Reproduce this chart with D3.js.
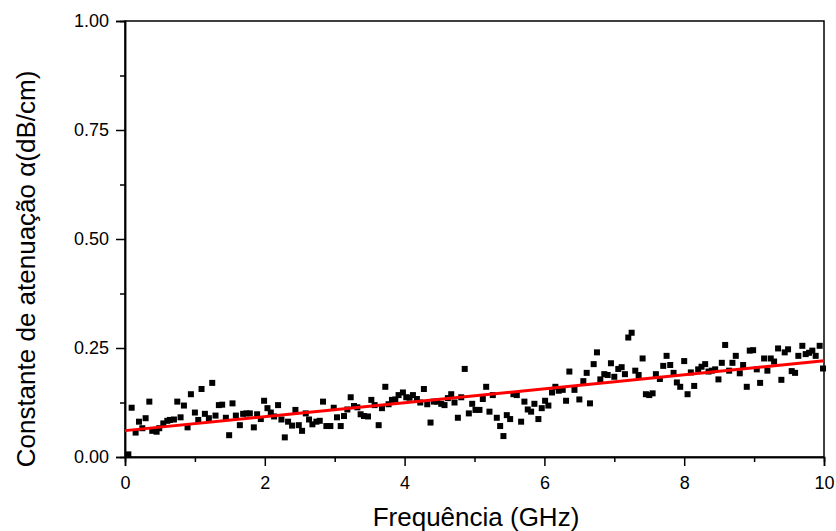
<!DOCTYPE html>
<html><head><meta charset="utf-8">
<script src="https://cdn.jsdelivr.net/npm/d3@7"></script>
<style>body{margin:0;background:#fff}svg{display:block}text{font-family:"Liberation Sans",Arial,sans-serif}</style>
</head><body><svg id="c" width="836" height="531"></svg>
<script>
const freq = [0.048,0.095,0.152,0.200,0.248,0.295,0.348,0.390,0.452,0.490,0.548,0.605,0.643,0.700,0.748,0.795,0.843,0.895,0.943,1.000,1.048,1.095,1.143,1.200,1.248,1.295,1.343,1.390,1.443,1.490,1.538,1.586,1.643,1.690,1.738,1.786,1.843,1.890,1.943,1.990,2.038,2.086,2.133,2.190,2.238,2.286,2.333,2.390,2.438,2.486,2.533,2.586,2.633,2.681,2.738,2.786,2.833,2.881,2.938,2.986,3.033,3.086,3.133,3.181,3.229,3.276,3.324,3.371,3.419,3.476,3.524,3.571,3.629,3.676,3.724,3.771,3.819,3.867,3.914,3.976,4.024,4.071,4.119,4.176,4.224,4.276,4.324,4.371,4.419,4.467,4.524,4.571,4.619,4.667,4.714,4.762,4.810,4.860,4.919,4.967,5.014,5.071,5.119,5.167,5.214,5.262,5.319,5.367,5.414,5.462,5.510,5.557,5.605,5.667,5.714,5.762,5.810,5.857,5.914,5.962,6.010,6.057,6.109,6.157,6.205,6.262,6.310,6.357,6.430,6.500,6.557,6.605,6.652,6.705,6.752,6.800,6.857,6.905,6.952,7.000,7.057,7.105,7.152,7.200,7.248,7.300,7.348,7.405,7.452,7.500,7.548,7.595,7.652,7.700,7.748,7.800,7.848,7.895,7.943,8.000,8.048,8.095,8.143,8.200,8.248,8.300,8.348,8.395,8.443,8.490,8.538,8.586,8.643,8.690,8.738,8.795,8.843,8.895,8.938,8.986,9.038,9.086,9.143,9.190,9.238,9.286,9.343,9.390,9.438,9.486,9.538,9.586,9.633,9.690,9.738,9.786,9.833,9.881,9.938,9.986];
const alpha = [0.006,0.113,0.056,0.081,0.066,0.089,0.127,0.060,0.058,0.066,0.077,0.083,0.085,0.086,0.127,0.091,0.118,0.068,0.144,0.102,0.085,0.156,0.099,0.089,0.170,0.095,0.119,0.120,0.090,0.050,0.123,0.095,0.073,0.099,0.100,0.100,0.068,0.098,0.087,0.129,0.112,0.102,0.093,0.119,0.086,0.045,0.081,0.072,0.108,0.073,0.060,0.100,0.086,0.075,0.081,0.083,0.127,0.071,0.071,0.113,0.091,0.071,0.094,0.109,0.137,0.117,0.114,0.098,0.094,0.093,0.131,0.119,0.073,0.112,0.161,0.121,0.131,0.132,0.142,0.148,0.137,0.136,0.142,0.133,0.125,0.156,0.121,0.079,0.127,0.127,0.122,0.119,0.135,0.144,0.125,0.090,0.137,0.202,0.100,0.122,0.108,0.108,0.133,0.161,0.104,0.142,0.090,0.071,0.048,0.096,0.087,0.144,0.142,0.081,0.127,0.109,0.104,0.122,0.087,0.112,0.129,0.118,0.148,0.161,0.152,0.154,0.129,0.196,0.154,0.132,0.174,0.193,0.123,0.213,0.240,0.178,0.190,0.188,0.215,0.184,0.202,0.206,0.190,0.274,0.285,0.198,0.188,0.226,0.144,0.142,0.146,0.190,0.179,0.209,0.232,0.211,0.193,0.171,0.161,0.220,0.144,0.194,0.163,0.201,0.207,0.213,0.196,0.198,0.201,0.178,0.216,0.257,0.198,0.216,0.232,0.192,0.211,0.161,0.244,0.245,0.201,0.170,0.226,0.198,0.226,0.219,0.249,0.177,0.240,0.247,0.197,0.193,0.232,0.255,0.236,0.239,0.244,0.232,0.255,0.203];
const fitIntercept = 0.0605;
const fitSlope = 0.016;
const xTicks = [0,2,4,6,8,10];
const xMinor = [1,3,5,7,9];
const yTicks = [0,0.25,0.5,0.75,1.0];
const yMinor = [0.125,0.375,0.625,0.875];
const xLabel = "Frequência (GHz)";
const yLabel = "Constante de atenuação α(dB/cm)";

const svg = d3.select("#c");
const L=125, R=824, T=21, B=457;
const x = d3.scaleLinear().domain([0,10]).range([L,R]);
const y = d3.scaleLinear().domain([0,1]).range([B,T]);

// frame
svg.append("rect").attr("x",L).attr("y",T).attr("width",R-L).attr("height",B-T)
  .attr("fill","none").attr("stroke","#000").attr("stroke-width",1.5);

// axes
const gx = svg.append("g").attr("transform",`translate(0,${B})`)
  .call(d3.axisBottom(x).tickValues(xTicks).tickFormat(d3.format("d")).tickSize(9).tickPadding(10));
const gxm = svg.append("g").attr("transform",`translate(0,${B})`)
  .call(d3.axisBottom(x).tickValues(xMinor).tickFormat("").tickSize(5));
const gy = svg.append("g").attr("transform",`translate(${L},0)`)
  .call(d3.axisLeft(y).tickValues(yTicks).tickFormat(d3.format(".2f")).tickSize(9).tickPadding(7));
const gym = svg.append("g").attr("transform",`translate(${L},0)`)
  .call(d3.axisLeft(y).tickValues(yMinor).tickFormat("").tickSize(5));
[gx,gxm,gy,gym].forEach(g=>{
  g.select(".domain").attr("stroke-width",1.5);
  g.selectAll(".tick line").attr("stroke-width",1.5);
  g.selectAll("text").attr("font-size",18).attr("fill","#000").style("font-family","'Liberation Sans',Arial,sans-serif");
});

// points
const data = freq.map((f,i)=>({f, a: alpha[i]}));
const s = 6;
svg.append("g").selectAll("rect").data(data).join("rect")
  .attr("x",d=>x(d.f)-s/2).attr("y",d=>y(d.a)-s/2)
  .attr("width",s).attr("height",s).attr("fill","#000");

// fit line
svg.append("line")
  .attr("x1",x(0)).attr("y1",y(fitIntercept))
  .attr("x2",x(10)).attr("y2",y(fitIntercept+fitSlope*10))
  .attr("stroke","#ff0000").attr("stroke-width",3);

// labels
svg.append("text").attr("x",476).attr("y",526).attr("text-anchor","middle")
  .attr("font-size",26).text(xLabel);
svg.append("text").attr("transform","translate(35,269) rotate(-90)").attr("text-anchor","middle")
  .attr("font-size",26).text(yLabel);
</script></body></html>
